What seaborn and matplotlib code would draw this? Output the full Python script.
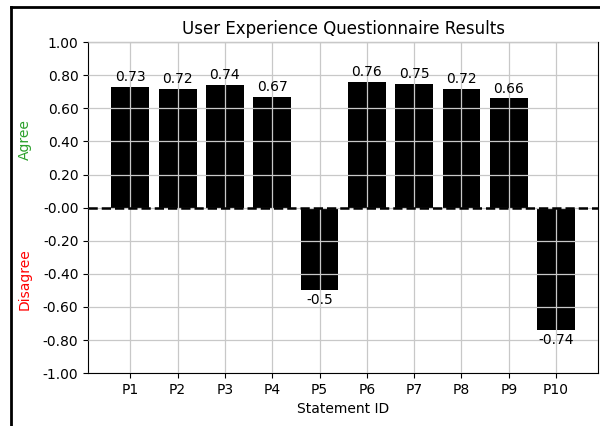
import numpy as np
import pandas as pd
import matplotlib
matplotlib.use("Agg")
import matplotlib.pyplot as plt
import seaborn as sns
from matplotlib.lines import Line2D

plt.rcParams['figure.dpi'] = 100

# 数据
statement_ids = ['P1', 'P2', 'P3', 'P4', 'P5', 'P6', 'P7', 'P8', 'P9', 'P10']
scores = [0.73, 0.72, 0.74, 0.67, -0.5, 0.76, 0.75, 0.72, 0.66, -0.74]
y_ticks = [-1.0, -0.8, -0.6, -0.4, -0.2, 0.0, 0.2, 0.4, 0.6, 0.8, 1.0]
y_tick_labels = ['-1.00', '-0.80', '-0.60', '-0.40', '-0.20', '-0.00',
                 '0.20', '0.40', '0.60', '0.80', '1.00']

df = pd.DataFrame({'Statement ID': statement_ids, 'Score': scores})

fig = plt.figure(figsize=(6, 4.26))
ax = fig.add_axes([0.147, 0.124, 0.850, 0.777])

sns.barplot(data=df, x='Statement ID', y='Score', color='black',
            saturation=1, width=0.8, ax=ax)

ax.set_xlim(-0.89, 9.89)
ax.set_ylim(-1.0, 1.0)
ax.set_yticks(y_ticks)
ax.set_yticklabels(y_tick_labels)

# 网格画在柱子上面
for p in ax.patches:
    p.set_zorder(0.5)
ax.set_axisbelow(False)
ax.grid(True, color='#c8c8c8', linewidth=0.9)

ax.axhline(0, color='black', linestyle='--', linewidth=1.8, zorder=3)

ax.bar_label(ax.containers[0], fmt='%g', padding=2, fontsize=10)

ax.set_title('User Experience Questionnaire Results', fontsize=12)
ax.set_xlabel('Statement ID', fontsize=10)
ax.set_ylabel('')

# 同意 / 不同意 标签
ax.text(-0.124, 0.41, 'Agree', color='tab:green', rotation=90,
        transform=ax.get_yaxis_transform(), ha='center', va='center', fontsize=10)
ax.text(-0.124, -0.43, 'Disagree', color='red', rotation=90,
        transform=ax.get_yaxis_transform(), ha='center', va='center', fontsize=10)

# 外框
fig.add_artist(Line2D([0.0183, 1.0], [0.9836, 0.9836], color='black', linewidth=2,
                      transform=fig.transFigure))
fig.add_artist(Line2D([0.0183, 0.0183], [0.0, 0.9836], color='black', linewidth=2,
                      transform=fig.transFigure))

fig.savefig('out.png', dpi=100)
